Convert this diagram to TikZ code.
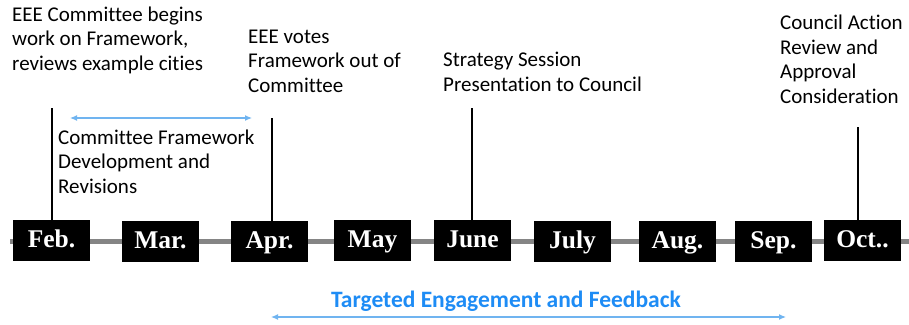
\documentclass[tikz,border=0pt]{standalone}
\usepackage{fontspec}
\setmainfont{Carlito}[Ligatures=NoCommon]
\newfontfamily\monthfont{Liberation Serif}
\usetikzlibrary{arrows.meta}
\definecolor{lblue}{HTML}{70B4F0}
\definecolor{tblue}{HTML}{1E8CF5}
\definecolor{lgray}{HTML}{858585}
\begin{document}
\begin{tikzpicture}[x=1pt,y=-1pt,
  month/.style={fill=black,text=white,minimum width=77pt,minimum height=41pt,inner sep=0pt,
    font=\monthfont\bfseries\fontsize{25.5}{25.5}\selectfont,text height=14pt,text depth=0pt},
  note/.style={anchor=base west,align=left,inner sep=0pt,font=\fontsize{21}{24.5}\selectfont},
  tick/.style={line width=1.8pt,black},
  span/.style={lblue,line width=1.2pt,{Latex[length=7pt,width=6pt]}-{Latex[length=7pt,width=6pt]}}
]
\useasboundingbox (0,0) rectangle (909,324);
\coordinate (lineL) at (10,241.5);
\coordinate (lineR) at (909,241.5);
\draw[lgray,line width=5pt] (lineL) -- (lineR);

\node[month] (feb) at (51.5,240.5) {Feb.};
\node[month] (mar) at (160.5,241.5) {Mar.};
\node[month] (apr) at (269.5,241.5) {Apr.};
\node[month] (may) at (372.5,240.5) {May};
\node[month] (jun) at (472.5,240.5) {June};
\node[month] (jul) at (572.5,241.5) {July};
\node[month] (aug) at (677.5,241.5) {Aug.};
\node[month] (sep) at (773.5,241.5) {Sep.};
\node[month] (oct) at (862.5,240.5) {Oct..};

\coordinate (tFeb) at (52,108);
\coordinate (tApr) at (272,118);
\coordinate (tJun) at (472,108);
\coordinate (tOct) at (858,127);
\draw[tick] (tFeb) -- (tFeb |- feb.north);
\draw[tick] (tApr) -- (tApr |- apr.north);
\draw[tick] (tJun) -- (tJun |- jun.north);
\draw[tick] (tOct) -- (tOct |- oct.north);

\node[note] (n1) at (12,70) {EEE Committee begins\\work on Framework,\\reviews example cities};
\node[note] (n2) at (248,92) {EEE votes\\Framework out of\\Committee};
\node[note] (n3) at (443,91) {Strategy Session\\Presentation to Council};
\node[note] (n4) at (780,103) {Council Action\\Review and\\Approval\\Consideration};
\node[note] (n5) at (58,193) {Committee Framework\\Development and\\Revisions};

\coordinate (a1L) at (70,118);
\coordinate (a1R) at (252,118);
\draw[span] (a1L) -- (a1R);
\coordinate (a2L) at (271,317);
\coordinate (a2R) at (786,317);
\draw[span] (a2L) -- (a2R);
\node[anchor=base,inner sep=0pt,text=tblue,font=\bfseries\fontsize{23.5}{28}\selectfont] (eng) at (506,307) {Targeted Engagement and Feedback};
\end{tikzpicture}
\end{document}
